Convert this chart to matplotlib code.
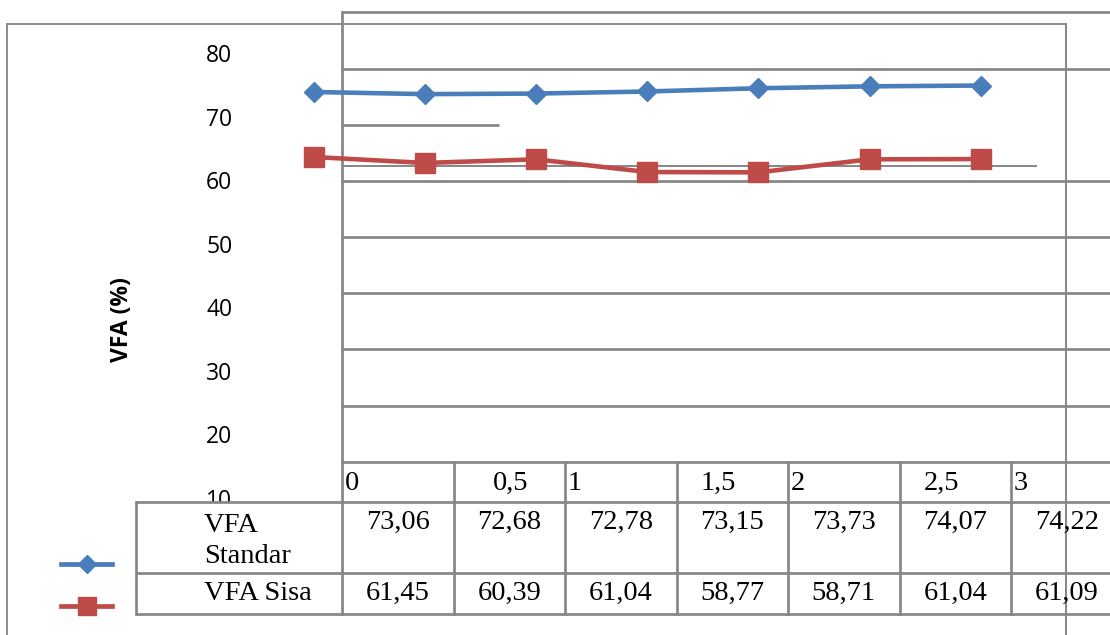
import numpy as np
import matplotlib
matplotlib.use('Agg')
import matplotlib.pyplot as plt
from matplotlib.patches import Rectangle

# kadar aspal (%) and VFA results
categories = ['0', '0,5', '1', '1,5', '2', '2,5', '3']
vfa_standar = [73.06, 72.68, 72.78, 73.15, 73.73, 74.07, 74.22]
vfa_sisa = [61.45, 60.39, 61.04, 58.77, 58.71, 61.04, 61.09]
series_names = ['VFA\nStandar', 'VFA Sisa']
y_ticks = [10, 20, 30, 40, 50, 60, 70, 80]
y_label = 'VFA (%)'

W, H = 1110, 635
BLUE = '#4A7EBB'
RED = '#BE4B48'
GRID = '#868686'
SERIF = 'Liberation Serif'
SANS = 'Open Sans'


def fmt(v):
    return f'{v:.2f}'.replace('.', ',')


def main():
    fig = plt.figure(figsize=(W / 100, H / 100), dpi=100)

    # value axis labels (own scale, drawn behind the table)
    ax_t = fig.add_axes([240 / W, 0, 0.001, 1], zorder=0)
    t_mid, t_px, t_scale = 45, 275.5, 6.345
    ax_t.set_ylim(t_mid - (H - t_px) / t_scale, t_mid + t_px / t_scale)
    ax_t.set_yticks(y_ticks)
    ax_t.set_yticklabels([str(t) for t in y_ticks], fontsize=16.5, family=SANS)
    ax_t.tick_params(axis='y', length=0, pad=5.5)
    ax_t.set_xticks([])
    for s in ax_t.spines.values():
        s.set_visible(False)
    ax_t.patch.set_visible(False)

    # frame, grid lines and data table in pixel coordinates
    ax_f = fig.add_axes([0, 0, 1, 1], zorder=1)
    ax_f.set_xlim(0, W)
    ax_f.set_ylim(H, 0)
    ax_f.axis('off')
    ax_f.patch.set_visible(False)

    ax_f.add_patch(Rectangle((136, 502), W - 136, 112, facecolor='white', edgecolor='none', zorder=1))

    lw, lw_thin = 1.95, 1.4
    for y in [12, 68.5, 181, 237, 293, 349, 406, 462]:
        ax_f.plot([342, W], [y, y], color=GRID, lw=lw, zorder=2, solid_capstyle='butt')
    for y in [502, 573, 614]:
        ax_f.plot([136, W], [y, y], color=GRID, lw=lw, zorder=2, solid_capstyle='butt')
    ax_f.plot([342, 499], [125, 125], color=GRID, lw=lw, zorder=2, solid_capstyle='butt')
    ax_f.plot([342, 1037], [166, 166], color=GRID, lw=lw_thin, zorder=2, solid_capstyle='butt')
    ax_f.plot([7, 1066], [24, 24], color='#8c8c8c', lw=lw_thin, zorder=2)
    ax_f.plot([7, 7], [24, H], color='#8c8c8c', lw=lw_thin, zorder=2)
    ax_f.plot([1066, 1066], [24, H], color=GRID, lw=lw_thin, zorder=3)
    ax_f.plot([342, 342], [12, 614], color=GRID, lw=lw, zorder=2)
    ax_f.plot([136, 136], [502, 614], color=GRID, lw=lw, zorder=2)

    col_w = 111.5
    col_left = [342 + col_w * k for k in range(len(categories))]
    for x in col_left[1:]:
        ax_f.plot([x, x], [462, 614], color=GRID, lw=lw, zorder=2)

    # header row: whole numbers sit left, halves sit near the middle
    half_off = [0, 39, 0, 24, 0, 24, 0]
    for k, lab in enumerate(categories):
        if ',' in lab:
            ax_f.text(col_left[k] + half_off[k], 483, lab, ha='left', va='center',
                      fontsize=20.5, family=SERIF, zorder=4)
        else:
            ax_f.text(col_left[k] + 3, 483, lab, ha='left', va='center',
                      fontsize=20.5, family=SERIF, zorder=4)

    ax_f.text(204, 541, series_names[0], ha='left', va='center', fontsize=20.5,
              family=SERIF, linespacing=1.33, zorder=4)
    ax_f.text(204, 593, series_names[1], ha='left', va='center', fontsize=20.5,
              family=SERIF, zorder=4)
    for k in range(len(categories)):
        cx = col_left[k] + col_w / 2
        ax_f.text(cx, 522, fmt(vfa_standar[k]), ha='center', va='center',
                  fontsize=20.5, family=SERIF, zorder=4)
        ax_f.text(cx, 593, fmt(vfa_sisa[k]), ha='center', va='center',
                  fontsize=20.5, family=SERIF, zorder=4)

    # legend keys beside the table
    ax_f.plot([61, 112], [564, 564], color=BLUE, lw=3.4, zorder=4)
    ax_f.plot([86.5], [564], marker='D', ms=9.5, color=BLUE, zorder=5)
    ax_f.plot([61, 112], [606, 606], color=RED, lw=3.4, zorder=4)
    ax_f.plot([86.5], [606], marker='s', ms=13, color=RED, zorder=5)

    ax_f.text(122, 320, y_label, rotation=90, ha='center', va='center',
              fontsize=16.5, fontweight='bold', family=SANS, zorder=4)

    # the two series
    ax_d = fig.add_axes([0, 0, 1, 1], zorder=2)
    x0, dx = 313.6, 111.2
    ax_d.set_xlim(-x0 / dx, (W - x0) / dx)
    y_ref, y_ref_px, y_scale = 73.06, 92, 5.6
    ax_d.set_ylim(y_ref - (H - y_ref_px) / y_scale, y_ref + y_ref_px / y_scale)
    ax_d.axis('off')
    ax_d.patch.set_visible(False)
    xs = np.arange(len(categories))
    ax_d.plot(xs, vfa_standar, color=BLUE, lw=3.3, marker='D', ms=10.5,
              mec=BLUE, mfc=BLUE)
    ax_d.plot(xs, vfa_sisa, color=RED, lw=3.3, marker='s', ms=14,
              mec=RED, mfc=RED)

    fig.savefig('out.png', dpi=100)


if __name__ == '__main__':
    main()
